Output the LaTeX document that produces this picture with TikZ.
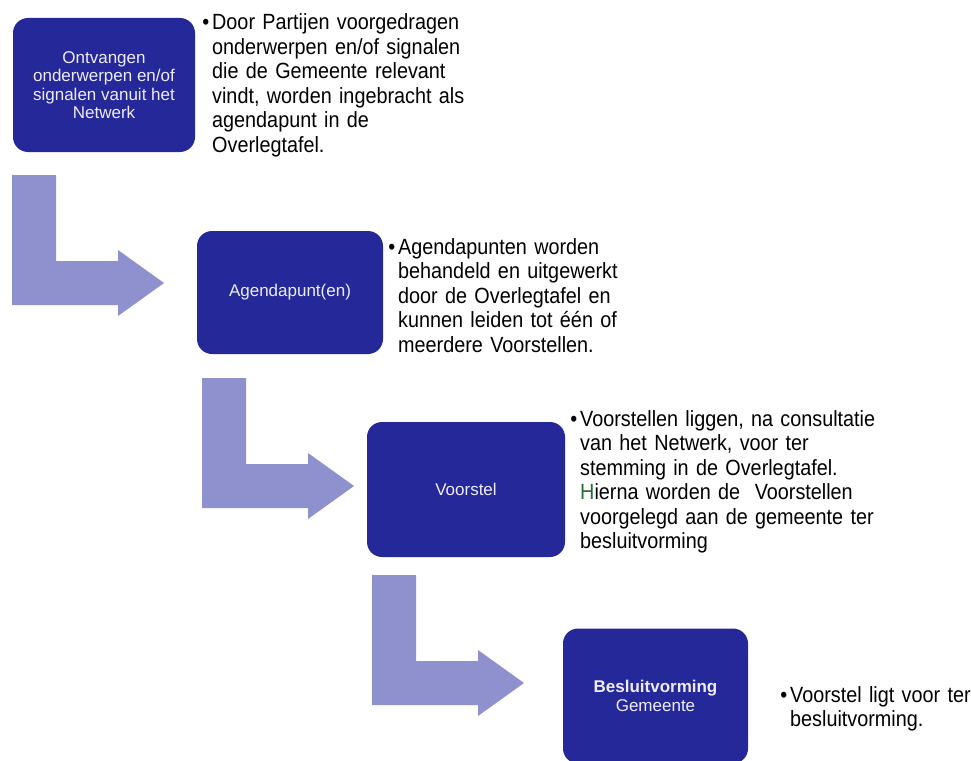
\documentclass[tikz,border=0pt]{standalone}
\usepackage{fontspec}
\setmainfont{Liberation Sans}
\newfontfamily\notefont[FakeStretch=0.9]{Liberation Sans}

\definecolor{stageblue}{RGB}{36,40,152}
\definecolor{stagetext}{RGB}{238,236,250}
\definecolor{arrowlilac}{RGB}{142,145,206}
\definecolor{hiernagreen}{RGB}{40,110,50}

\newcommand{\bentarrow}[1]{
  \fill [arrowlilac, shift={(#1)}] (0,0) -- (44,0) -- (44,86) -- (106,86) -- (106,75)
    -- (152,108) -- (106,141) -- (106,130) -- (0,130) -- cycle;
}

\begin{document}
\begin{tikzpicture}[x=1pt,y=-1pt,
    stage/.style={rectangle,rounded corners=15pt,fill=stageblue,text=stagetext,
      align=center,inner sep=0pt,font=\fontsize{17}{18.5}\selectfont},
    note/.style={anchor=base west,inner sep=0pt,text width=330pt,align=left,
      font=\notefont\fontsize{22}{24.5}\selectfont}]
  \clip (0,0) rectangle (971,760);

  \coordinate (a1) at (12,175);
  \coordinate (a2) at (202,378);
  \coordinate (a3) at (372,575);

  \bentarrow{a1}
  \bentarrow{a2}
  \bentarrow{a3}

  \node [stage,minimum width=182pt,minimum height=134pt] (s1) at (104,85)
    {Ontvangen\\onderwerpen en/of\\signalen vanuit het\\Netwerk};
  \node [stage,minimum width=186pt,minimum height=123pt] (s2) at (290,292.5)
    {Agendapunt(en)};
  \node [stage,minimum width=198pt,minimum height=135pt] (s3) at (466,489.5)
    {Voorstel};
  \node [stage,minimum width=185pt,minimum height=135pt] (s4) at (655.5,696)
    {{\bfseries Besluitvorming}\\Gemeente};

  \node [note] (n1) at (212,30)
    {\llap{\textbullet\hspace{3pt}}Door Partijen voorgedragen\\onderwerpen en/of signalen\\die de Gemeente relevant\\vindt, worden ingebracht als\\agendapunt in de\\Overlegtafel.};
  \node [note] (n2) at (398,254)
    {\llap{\textbullet\hspace{3pt}}Agendapunten worden\\behandeld en uitgewerkt\\door de Overlegtafel en\\kunnen leiden tot één of\\meerdere Voorstellen.};
  \node [note] (n3) at (580,426)
    {\llap{\textbullet\hspace{3pt}}Voorstellen liggen, na consultatie\\van het Netwerk, voor ter\\stemming in de Overlegtafel.\\{\color{hiernagreen}H}ierna worden de~ Voorstellen\\voorgelegd aan de gemeente ter\\besluitvorming};
  \node [note] (n4) at (790,702)
    {\llap{\textbullet\hspace{3pt}}Voorstel ligt voor ter\\besluitvorming.};
\end{tikzpicture}
\end{document}
